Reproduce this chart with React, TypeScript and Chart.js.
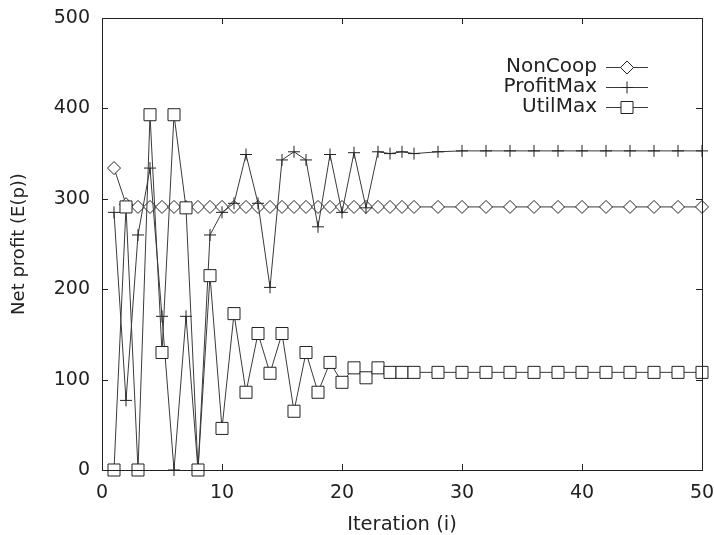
import React, { useEffect, useRef } from "react";
import { Chart, registerables } from "chart.js";

Chart.register(...registerables);

const iterations = [
  1, 2, 3, 4, 5, 6, 7, 8, 9, 10, 11, 12, 13, 14, 15, 16, 17, 18, 19, 20, 21, 22, 23, 24, 25, 26,
  28, 30, 32, 34, 36, 38, 40, 42, 44, 46, 48, 50,
];

const nonCoop = [
  334, 294, 291, 291, 291, 291, 291, 291, 291, 291, 291, 291, 291, 291, 291, 291, 291, 291, 291, 291,
  291, 291, 291, 291, 291, 291, 291, 291, 291, 291, 291, 291, 291, 291, 291, 291, 291, 291,
];

const profitMax = [
  285, 77, 260, 334, 170, 0, 170, 0, 260, 285, 295, 349, 295, 202, 343, 352, 343, 269, 349, 285,
  351, 290, 352, 350, 352, 350, 352, 353, 353, 353, 353, 353, 353, 353, 353, 353, 353, 353,
];

const utilMax = [
  0, 291, 0, 393, 130, 393, 290, 0, 215, 46, 173, 86, 151, 107, 151, 65, 130, 86, 119, 97, 113,
  102, 113, 108, 108, 108, 108, 108, 108, 108, 108, 108, 108, 108, 108, 108, 108, 108,
];

const seriesNames = ["NonCoop", "ProfitMax", "UtilMax"];
const xTicks = [0, 10, 20, 30, 40, 50];
const yTicks = [0, 100, 200, 300, 400, 500];
const xTitle = "Iteration (i)";
const yTitle = "Net profit (E(p))";

const FONT = "'DejaVu Sans', sans-serif";
const INK = "#222";
const LINE = "#3a3a3a";

const pointStyles = ["rectRot", "cross", "rect"];
const pointRadii = [6.5, 6, 8.5];

function drawMarker(ctx: CanvasRenderingContext2D, style: string, x: number, y: number, r: number) {
  ctx.beginPath();
  if (style === "rectRot") {
    ctx.moveTo(x - r, y);
    ctx.lineTo(x, y - r);
    ctx.lineTo(x + r, y);
    ctx.lineTo(x, y + r);
    ctx.closePath();
    ctx.fill();
    ctx.stroke();
  } else if (style === "rect") {
    const s = r * Math.SQRT1_2;
    ctx.rect(x - s, y - s, 2 * s, 2 * s);
    ctx.fill();
    ctx.stroke();
  } else {
    ctx.moveTo(x - r, y);
    ctx.lineTo(x + r, y);
    ctx.moveTo(x, y - r);
    ctx.lineTo(x, y + r);
    ctx.stroke();
  }
}

const framePlugin = {
  id: "frame",
  afterDatasetsDraw(chart: any) {
    const { ctx, chartArea, scales } = chart;
    const { left, right, top, bottom } = chartArea;
    ctx.save();
    ctx.strokeStyle = INK;
    ctx.lineWidth = 1;
    ctx.strokeRect(Math.round(left) + 0.5, Math.round(top) + 0.5, Math.round(right - left), Math.round(bottom - top));
    const tl = 6;
    ctx.beginPath();
    xTicks.forEach((v) => {
      const px = Math.round(scales.x.getPixelForValue(v)) + 0.5;
      ctx.moveTo(px, bottom);
      ctx.lineTo(px, bottom - tl);
      ctx.moveTo(px, top);
      ctx.lineTo(px, top + tl);
    });
    yTicks.forEach((v) => {
      const py = Math.round(scales.y.getPixelForValue(v)) + 0.5;
      ctx.moveTo(left, py);
      ctx.lineTo(left + tl, py);
      ctx.moveTo(right, py);
      ctx.lineTo(right - tl, py);
    });
    ctx.stroke();
    ctx.restore();
  },
};

const legendPlugin = {
  id: "customLegend",
  afterDraw(chart: any) {
    const { ctx } = chart;
    ctx.save();
    ctx.font = `20px ${FONT}`;
    ctx.textAlign = "right";
    ctx.textBaseline = "middle";
    seriesNames.forEach((name, i) => {
      const y = 67 + i * 20;
      ctx.fillStyle = INK;
      ctx.fillText(name, 597, y);
      ctx.strokeStyle = LINE;
      ctx.lineWidth = 1;
      ctx.beginPath();
      ctx.moveTo(606, y + 0.5);
      ctx.lineTo(648, y + 0.5);
      ctx.stroke();
      ctx.fillStyle = "#fff";
      ctx.strokeStyle = INK;
      drawMarker(ctx, pointStyles[i], 627, y + 0.5, pointRadii[i]);
    });
    ctx.restore();
  },
};

export default function App() {
  const ref = useRef<HTMLCanvasElement | null>(null);

  useEffect(() => {
    if (!ref.current) return;
    const series = [nonCoop, profitMax, utilMax];
    const chart = new Chart(ref.current, {
      type: "line",
      data: {
        datasets: series.map((vals, i) => ({
          label: seriesNames[i],
          data: iterations.map((x, j) => ({ x, y: vals[j] })),
          borderColor: LINE,
          borderWidth: 1,
          pointStyle: pointStyles[i] as any,
          pointRadius: pointRadii[i],
          pointBorderColor: INK,
          pointBorderWidth: 1,
          pointBackgroundColor: "#fff",
          fill: false,
          tension: 0,
          clip: false as any,
          order: 3 - i,
        })),
      },
      options: {
        animation: false,
        responsive: false,
        maintainAspectRatio: false,
        layout: { padding: { left: 0, top: 18, right: 12, bottom: 0 } },
        plugins: { legend: { display: false }, tooltip: { enabled: false } },
        scales: {
          x: {
            type: "linear",
            min: 0,
            max: 50,
            afterBuildTicks: (s: any) => {
              s.ticks = xTicks.map((v) => ({ value: v }));
            },
            afterFit: (s: any) => {
              s.height = 65;
              s.paddingLeft = 0;
              s.paddingRight = 0;
            },
            ticks: {
              font: { family: FONT, size: 19 },
              color: INK,
              padding: 12,
              maxRotation: 0,
            },
            grid: { display: false, drawTicks: false },
            border: { display: false },
            title: {
              display: true,
              text: xTitle,
              font: { family: FONT, size: 19.5, lineHeight: 1 },
              color: INK,
              padding: { top: 0, bottom: 0 },
            },
          },
          y: {
            type: "linear",
            min: 0,
            max: 500,
            afterBuildTicks: (s: any) => {
              s.ticks = yTicks.map((v) => ({ value: v }));
            },
            afterFit: (s: any) => {
              s.width = 102;
              s.paddingTop = 0;
              s.paddingBottom = 0;
            },
            ticks: {
              font: { family: FONT, size: 19 },
              color: INK,
              padding: 12,
            },
            grid: { display: false, drawTicks: false },
            border: { display: false },
            title: {
              display: true,
              text: yTitle,
              font: { family: FONT, size: 18, lineHeight: 1.2 },
              color: INK,
              padding: { top: 9, bottom: 0 },
            },
          },
        },
      },
      plugins: [framePlugin, legendPlugin],
    });
    return () => chart.destroy();
  }, []);

  return (
    <div style={{ position: "absolute", left: 0, top: 0, width: 714, height: 535, background: "#fff" }}>
      <canvas ref={ref} width={714} height={535} style={{ width: 714, height: 535, display: "block" }} />
    </div>
  );
}
